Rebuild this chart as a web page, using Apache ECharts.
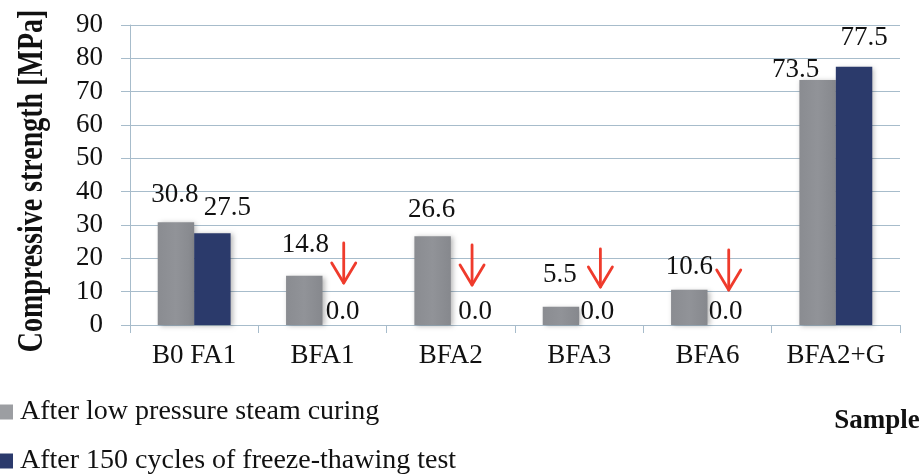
<!DOCTYPE html>
<html>
<head>
<meta charset="utf-8">
<style>
  html, body { margin: 0; padding: 0; background: #fff; }
  #chart { width: 922px; height: 476px; }
</style>
<script src="https://cdn.jsdelivr.net/npm/echarts@6/dist/echarts.min.js"></script>
</head>
<body>
<div id="chart"></div>
<script>
// Compressive strength of the mixes before and after freeze-thaw cycling
const categories = ['B0 FA1', 'BFA1', 'BFA2', 'BFA3', 'BFA6', 'BFA2+G'];
const steamCured = [30.8, 14.8, 26.6, 5.5, 10.6, 73.5];
const freezeThaw = [27.5, 0.0, 0.0, 0.0, 0.0, 77.5];
const seriesNames = ['After low pressure steam curing', 'After 150 cycles of freeze-thawing test'];
const yTicks = [0, 10, 20, 30, 40, 50, 60, 70, 80, 90];

// Red "dropped to zero" markers: category, arrow tail value, arrow tip value
const dropCategories = ['BFA1', 'BFA2', 'BFA3', 'BFA6'];
const dropTail = [24.6, 24.0, 22.8, 22.5];
const dropTip = [12.6, 12.0, 11.4, 10.5];

// Hand-placed label nudges [dx, dy] (pixels)
const steamLabelShift = [[-1, -9], [1, -12], [-1, -8], [-1, -13], [0, -4], [-22, 8]];
const thawLabelShift = [[15, -7], [2, 5], [6, 5], [0, 5], [0, 5], [10, -10]];

const FONT = '"Liberation Serif", "Times New Roman", serif';
const GRID_COLOR = '#a7bccb';

const labelBase = {
  show: true,
  position: 'top',
  distance: 5,
  fontFamily: FONT,
  fontSize: 27,
  color: '#111',
  formatter: p => p.value.toFixed(1)
};

function withLabels(values, shifts) {
  return values.map((v, i) => ({
    value: v,
    label: { offset: shifts[i] }
  }));
}

const chart = echarts.init(document.getElementById('chart'), null, { renderer: 'canvas' });

chart.setOption({
  animation: false,
  backgroundColor: '#fff',
  grid: { left: 130, right: 22, top: 25, bottom: 151, containLabel: false },
  legend: {
    orient: 'vertical',
    left: 0,
    top: 398,
    padding: 0,
    itemWidth: 13,
    itemHeight: 15,
    itemGap: 21,
    icon: 'rect',
    data: [
      { name: seriesNames[0], itemStyle: { color: '#9c9ea2' } },
      { name: seriesNames[1], itemStyle: { color: '#2b3a6c' } }
    ],
    textStyle: { fontFamily: FONT, fontSize: 28, lineHeight: 27, color: '#111', padding: [0, 0, 0, 2] }
  },
  xAxis: {
    type: 'category',
    data: categories,
    boundaryGap: true,
    axisLine: { show: true, lineStyle: { color: GRID_COLOR, width: 1 } },
    axisTick: { show: true, alignWithLabel: false, length: 8, lineStyle: { color: GRID_COLOR } },
    axisLabel: { interval: 0, fontFamily: FONT, fontSize: 27, color: '#111', margin: 17 }
  },
  yAxis: {
    type: 'value',
    min: yTicks[0],
    max: yTicks[yTicks.length - 1],
    interval: 10,
    axisLine: { show: true, lineStyle: { color: GRID_COLOR, width: 1 } },
    axisTick: { show: true, inside: false, length: 9, lineStyle: { color: GRID_COLOR } },
    splitLine: { show: true, lineStyle: { color: GRID_COLOR, width: 1 } },
    axisLabel: { fontFamily: FONT, fontSize: 27, color: '#111', margin: 27 }
  },
  graphic: [
    {
      type: 'text',
      x: 33,
      y: 181,
      rotation: Math.PI / 2,
      scaleY: 1.3,
      style: {
        text: 'Compressive strength [MPa]',
        font: 'bold 28px ' + FONT,
        fill: '#111',
        align: 'center',
        verticalAlign: 'middle'
      }
    },
    {
      type: 'text',
      x: 877,
      y: 421,
      style: {
        text: 'Sample',
        font: 'bold 27px ' + FONT,
        fill: '#111',
        align: 'center',
        verticalAlign: 'middle'
      }
    }
  ],
  series: [
    {
      name: seriesNames[0],
      type: 'bar',
      barWidth: '28.4%',
      barGap: '0%',
      data: withLabels(steamCured, steamLabelShift),
      itemStyle: {
        color: new echarts.graphic.LinearGradient(0, 0, 1, 0, [
          { offset: 0, color: '#8a8c91' },
          { offset: 0.5, color: '#919398' },
          { offset: 1, color: '#86888d' }
        ]),
        shadowColor: 'rgba(0,0,0,0.28)',
        shadowBlur: 5,
        shadowOffsetX: 2,
        shadowOffsetY: 1
      },
      label: labelBase,
      z: 2
    },
    {
      name: seriesNames[1],
      type: 'bar',
      barWidth: '28.4%',
      barGap: '0%',
      data: withLabels(freezeThaw, thawLabelShift),
      itemStyle: {
        color: '#2b3a6b',
        shadowColor: 'rgba(0,0,0,0.28)',
        shadowBlur: 5,
        shadowOffsetX: 2,
        shadowOffsetY: 1
      },
      label: labelBase,
      z: 2
    },
    {
      name: 'drop',
      type: 'custom',
      z: 5,
      silent: true,
      data: dropCategories.map((c, i) => [c, dropTail[i], dropTip[i]]),
      renderItem: function (params, api) {
        const tail = api.coord([api.value(0), api.value(1)]);
        const tip = api.coord([api.value(0), api.value(2)]);
        const band = api.size([1, 0])[0];
        const x = tail[0] + band * 0.142 + 3;
        const stroke = { stroke: '#ef3b2c', lineWidth: 2.8, fill: null, lineCap: 'round', lineJoin: 'round' };
        return {
          type: 'group',
          children: [
            { type: 'line', shape: { x1: x, y1: tail[1], x2: x, y2: tip[1] }, style: stroke },
            {
              type: 'polyline',
              shape: { points: [[x - 12, tip[1] - 20], [x, tip[1]], [x + 12, tip[1] - 20]] },
              style: stroke
            }
          ]
        };
      }
    }
  ]
});
</script>
</body>
</html>
